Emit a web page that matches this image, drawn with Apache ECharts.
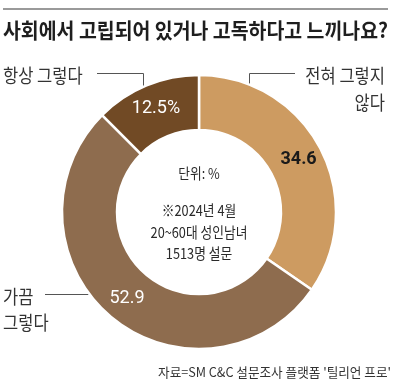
<!DOCTYPE html>
<html><head><meta charset="utf-8">
<script src="https://cdn.jsdelivr.net/npm/echarts@6/dist/echarts.min.js"></script>
<style>html,body{margin:0;padding:0;background:#fff}#c{width:398px;height:390px}</style>
</head><body><div id="c"></div>
<script>
const categories = ['전혀 그렇지 않다', '가끔 그렇다', '항상 그렇다'];
const values = [34.6, 52.9, 12.5];
const valueLabels = ['34.6', '52.9', '12.5%'];
const colors = ['#CD9B61', '#8E6C4E', '#714A25'];
const labelColors = ['#1a1a1a', '#ffffff', '#ffffff'];
const title = '사회에서 고립되어 있거나 고독하다고 느끼나요?';
const centerLines = ['단위: %', '※2024년 4월', '20~60대 성인남녀', '1513명 설문'];
const source = "자료=SM C&C 설문조사 플랫폼 '틸리언 프로'";

const chart = echarts.init(document.getElementById('c'), null, {renderer: 'canvas'});
const KR = '"Noto Sans CJK KR", sans-serif';
function txt(x, y, text, size, weight, align, sx, color) {
  return {type: 'text', x: x, y: y, scaleX: sx, silent: true,
    style: {text: text, x: 0, y: 0, fontSize: size, fontWeight: weight, fontFamily: KR,
      fill: color || '#222', textAlign: align, textVerticalAlign: 'middle'}};
}
function line(pts) {
  return {type: 'polyline', silent: true, shape: {points: pts},
    style: {stroke: '#555', lineWidth: 1, fill: null}};
}
const graphics = [
  {type: 'line', silent: true, shape: {x1: 3, y1: 9, x2: 388, y2: 9}, style: {stroke: '#9a9a9a', lineWidth: 2}},
  txt(3, 30, title, 21, 'bold', 'left', 0.925, '#1e1e1e'),
  txt(3, 76, '항상 그렇다', 19, 'normal', 'left', 0.87, '#333'),
  line([[97, 73.5], [143.5, 73.5], [143.5, 90]]),
  txt(385, 76, '전혀 그렇지', 19, 'normal', 'right', 0.87, '#333'),
  txt(385, 103, '않다', 19, 'normal', 'right', 0.87, '#333'),
  line([[295, 73.5], [249.5, 73.5], [249.5, 90]]),
  txt(3, 297, '가끔', 19, 'normal', 'left', 0.87, '#333'),
  txt(3, 323, '그렇다', 19, 'normal', 'left', 0.87, '#333'),
  line([[45, 294.5], [95, 294.5]]),
  txt(199, 173, centerLines[0], 15, 'normal', 'center', 0.85, '#2a2a2a'),
  txt(199, 210, centerLines[1], 15, 'normal', 'center', 0.85, '#2a2a2a'),
  txt(199, 232, centerLines[2], 15, 'normal', 'center', 0.85, '#2a2a2a'),
  txt(199, 253, centerLines[3], 15, 'normal', 'center', 0.85, '#2a2a2a'),
  txt(391, 372, source, 13, 'normal', 'right', 0.97, '#333')
];

chart.setOption({
  animation: false,
  graphic: graphics,
  series: [{
    type: 'pie',
    center: [199, 212],
    radius: [82, 137],
    startAngle: 90,
    clockwise: true,
    silent: true,
    itemStyle: {borderColor: '#fff', borderWidth: 2.5},
    label: {show: true, position: 'inside', fontFamily: '"Liberation Sans Narrow", Roboto, sans-serif', fontSize: 18},
    labelLine: {show: false},
    data: values.map((v, i) => ({
      name: categories[i], value: v,
      itemStyle: {color: colors[i]},
      label: {formatter: valueLabels[i], color: labelColors[i], fontWeight: i === 0 ? 'bold' : 'normal'}
    }))
  }]
});
</script></body></html>
